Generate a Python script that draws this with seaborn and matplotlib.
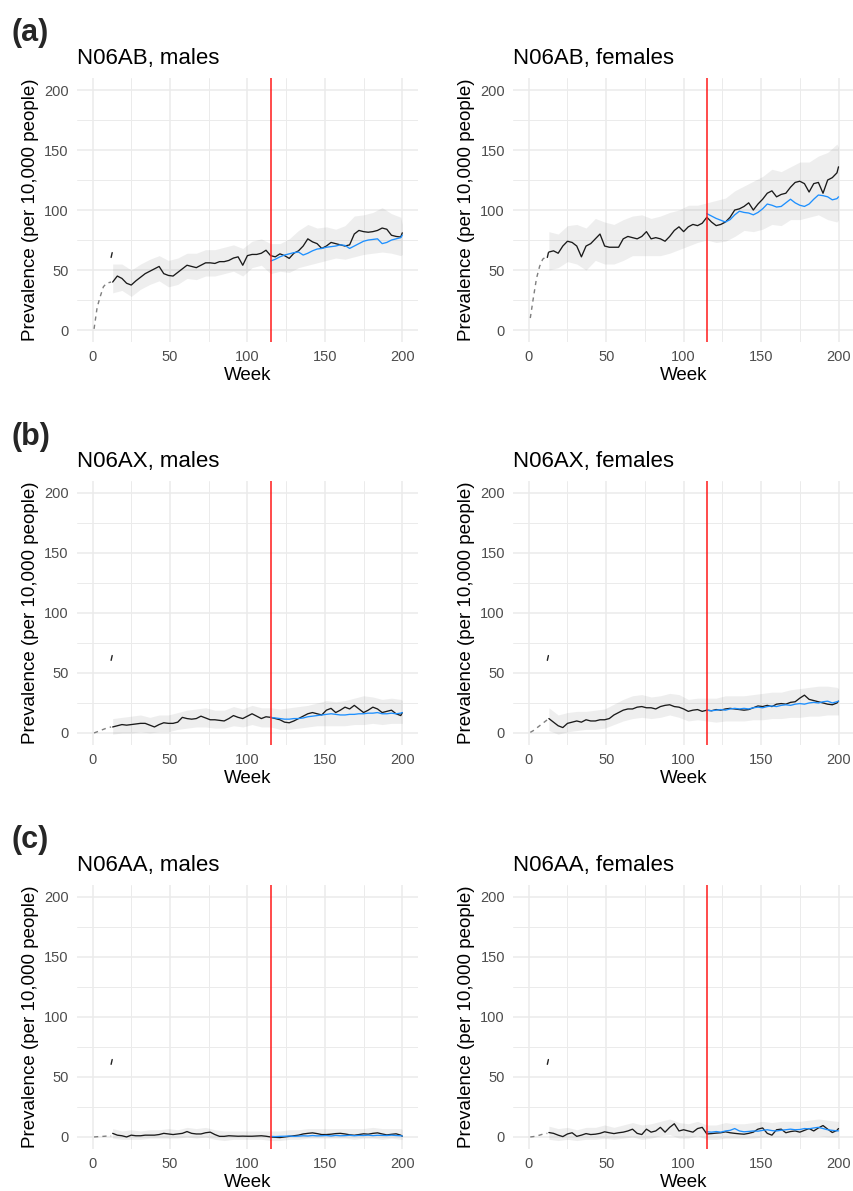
import matplotlib
matplotlib.use("Agg")
import matplotlib.pyplot as plt
import seaborn as sns

sns.set_theme(style="whitegrid")
plt.rcParams['font.family'] = ['Liberation Sans', 'DejaVu Sans']

# x positions (weeks)
weeks_dash = [1, 3, 5, 7, 9, 12]
weeks_spike = [12, 12.7]
weeks_obs = list(range(13, 200, 3)) + [200]
weeks_fc = list(range(115, 200, 3)) + [200]
weeks_band = list(range(13, 200, 6)) + [200]
spike_vals = [60.5, 64.5]
cutoff = 115

# ---- N06AB males
ab_m_dash = [1, 19, 28, 36, 39, 40]
ab_m_obs = [40, 45, 43, 39, 37.5, 41, 44, 47, 49, 51, 53, 47, 45.5, 45, 48, 51, 54, 53, 52, 54,
            56, 56, 55.5, 57, 57, 58, 60, 61, 54, 62, 63, 63, 64, 66.5, 62, 61, 63.5, 62, 59.7, 64,
            66, 70, 76, 73.5, 72, 68, 70, 73, 72, 71, 70, 71, 80, 83, 82, 81.5, 82, 83, 85, 84,
            79, 78, 77.5, 81]
ab_m_fc = [57.5, 59, 61, 62.5, 63.5, 64.5, 65, 62.5, 64, 66, 67.5, 68, 69, 69.5, 70, 71, 70.5, 68,
           70, 72, 74, 75, 75.5, 76, 72, 73, 75, 76, 77, 79]
ab_m_lo = [31, 33, 28, 34, 38, 41, 36, 38, 43, 42, 45, 45, 47, 49, 45, 52, 54, 47, 49, 48, 52, 54,
           56, 58, 60, 59, 61, 63, 64, 65, 64, 62, 63]
ab_m_hi = [55, 55, 50, 55, 59, 62, 58, 60, 64, 64, 67, 67, 69, 71, 68, 74, 76, 72, 72, 76, 83, 88,
           85, 86, 84, 87, 95, 96, 98, 102, 97, 94, 88]

# ---- N06AB females
ab_f_dash = [10, 27, 43, 53, 59, 62]
ab_f_obs = [65, 66, 64, 70, 74, 73, 70, 61, 70, 72, 76, 80, 70, 69, 69, 69, 76, 78, 77, 76,
            78, 82, 76, 77, 76, 74, 78, 83, 86, 82, 86, 88, 87, 89, 94, 90, 87, 88, 90, 94,
            100, 101, 103, 106, 100, 105, 109, 114, 116, 111, 113, 114, 119, 123, 124, 122, 115, 122, 123, 114,
            125, 127, 131, 136]
ab_f_fc = [97, 95, 93, 91.5, 90, 92, 96, 99, 98, 97.5, 96, 98, 101, 105, 104, 102.5, 103, 106,
           109, 106, 104, 103, 105, 109, 112.5, 112, 111, 108.5, 109.5, 111]
ab_f_lo = [50, 52, 57, 55, 50, 58, 55, 55, 58, 62, 62, 62, 62, 64, 67, 70, 73, 75, 73, 74, 78, 83,
           82, 84, 88, 87, 92, 92, 94, 96, 92, 90, 92]
ab_f_hi = [82, 80, 87, 88, 85, 93, 90, 88, 92, 95, 96, 93, 95, 98, 100, 104, 104, 106, 108, 110, 116, 120,
           124, 128, 134, 132, 136, 140, 140, 145, 148, 155, 152]

# ---- N06AX males
ax_m_dash = [0, 1, 2, 3, 4, 5]
ax_m_obs = [5, 6, 7, 6.5, 7, 7.5, 8, 8, 6.5, 5, 7, 8.5, 8, 8, 9, 13, 12, 11.5, 12, 14,
            12.5, 11, 11, 10.5, 10, 12, 14.5, 13, 12, 14, 16, 14, 12, 13.5, 13, 12, 11, 9, 8.5, 10,
            12, 14, 16, 17, 16, 15, 19, 20.5, 17, 19, 21.5, 20, 23, 20, 17, 19, 21.5, 20, 17, 18,
            19, 16, 14.5, 17]
ax_m_fc = [13, 12.5, 12, 11.5, 11.5, 12, 12, 12.5, 13.5, 14, 14.5, 15, 15.5, 16, 15.5, 15, 15, 15.5,
           15.5, 16, 16, 16.5, 16.5, 17, 16, 16, 16.5, 16, 16.5, 17]
ax_m_lo = [-1, 0, 0, 1, 0, 1, 1, 3, 4, 5, 5, 4, 4, 6, 5, 7, 5, 5, 3, 3, 4, 5, 6, 6, 6, 6, 7, 7,
           8, 7, 8, 8, 8]
ax_m_hi = [12, 13, 14, 15, 13, 15, 15, 17, 19, 20, 21, 19, 19, 22, 20, 23, 21, 21, 20, 21, 22, 23,
           25, 27, 26, 27, 29, 31, 30, 28, 29, 28, 27]

# ---- N06AX females
ax_f_dash = [0.5, 2, 4, 6, 8, 11]
ax_f_obs = [12, 9, 6, 4.5, 8, 9, 10, 9, 11, 10, 10, 11, 11, 12, 15, 17, 19, 20, 20, 21.5,
            22, 21, 21, 20, 22, 23, 23.5, 22, 21.5, 20, 18, 19, 19.5, 18, 19, 18.5, 19.5, 19, 20, 20.5,
            20, 19.5, 19, 19.5, 21, 22.5, 22, 23, 22, 24, 24.5, 24, 25.5, 26, 29, 31.5, 28, 27, 26, 25,
            24, 23.5, 25, 26.5]
ax_f_fc = [19, 18.5, 19, 19.5, 19, 20, 20.5, 20, 20.5, 20, 21, 21.5, 21, 22, 22.5, 22, 23, 23.5,
           23, 24, 24.5, 24, 25, 25.5, 25, 26, 26.5, 25, 26, 26.5]
ax_f_lo = [2, -1, 1, 2, 3, 3, 4, 7, 10, 12, 13, 12, 13, 15, 13, 10, 11, 10, 9, 10, 10, 10, 11, 11,
           12, 12, 13, 13, 14, 14, 15, 15, 15]
ax_f_hi = [21, 15, 17, 18, 18, 19, 20, 24, 28, 31, 32, 30, 31, 33, 32, 28, 29, 29, 29, 31, 31, 31,
           32, 33, 34, 34, 36, 37, 38, 39, 39, 38, 37]

# ---- N06AA males
aa_m_dash = [0, 0.2, 0.4, 0.5, 0.7, 0.8]
aa_m_obs = [3, 1.5, 1, 0, 1.5, 1, 1, 1.5, 1.5, 1.5, 2, 3, 2.5, 2, 2.5, 3, 4.5, 3, 2.5, 2.5,
            3.5, 4, 2, 0.5, 0.5, 1, 0.8, 0.6, 0.7, 0.6, 0.6, 0.8, 1, 0.6, 0, -0.3, -0.5, 0, 0.5, 1,
            1.5, 2.5, 3, 3.4, 2.8, 2, 2, 2.3, 2.8, 3, 2.5, 1.8, 1.4, 2, 2.6, 2.3, 3, 3.4, 2.5, 1.7,
            2.2, 2.6, 1.5, 0.6]
aa_m_fc = [0.5, 0.3, 0.5, 0.6, 0.8, 0.5, 0.7, 1, 0.8, 1.2, 0.9, 1, 1.2, 0.8, 1.3, 1, 1.1, 1.4,
           1, 1.3, 1.2, 1.5, 1.1, 1.4, 1.3, 1.2, 1.5, 1.2, 1, 0.8]
aa_m_lo = [-1, -2, -2, -2, -1, -1, -1, -1, 0, -1, 0, -2, -3, -2, -2, -2, -2, -3, -3, -2, -2, -1,
           -1, -1, -1, -1, -2, -1, -1, -2, -1, -2, -2]
aa_m_hi = [7, 5, 6, 5, 6, 6, 7, 6, 8, 7, 8, 6, 5, 5, 5, 5, 5, 5, 5, 6, 6, 7, 7, 7, 7, 7, 7, 7,
           8, 7, 7, 7, 6]

# ---- N06AA females
aa_f_dash = [0, 0.3, 0.8, 1.5, 2.3, 3]
aa_f_obs = [3.7, 3, 1.5, 0.3, 2.5, 3.5, 0.5, 1.5, 2.8, 2, 2.3, 3, 4.3, 3.5, 2.8, 3.5, 4, 5, 6.5, 3,
            2, 6.5, 4, 5, 8, 4, 8, 11, 5, 6, 5, 4, 7, 8, 2.5, 2.8, 3.2, 3.5, 4.3, 3.5,
            3, 2.6, 2.3, 3, 4, 6.5, 7.5, 3, 1.5, 6, 6.5, 3.5, 4.5, 5, 4, 5.5, 7, 5, 7.5, 9.5,
            6.5, 3.7, 5.5, 7]
aa_f_fc = [4.3, 4, 4.5, 4, 5, 5.5, 7, 5, 4.3, 4.6, 5, 4.8, 5.5, 6, 5.3, 5, 5.6, 6, 6.5, 6,
           6.2, 7, 6.8, 7.5, 8, 7, 6, 5.5, 5.1, 5.1]
aa_f_lo = [-2, -3, -2, -3, -2, -2, -1, -2, -1, 0, -2, -1, 1, 2, -1, -1, 1, -2, -2, -1, -1, -1,
           -1, 0, 0, 0, 0, 0, 1, 1, 0, 0, 0]
aa_f_hi = [9, 7, 8, 6, 8, 8, 10, 8, 10, 12, 10, 11, 13, 15, 12, 11, 13, 10, 10, 12, 11, 11, 12,
           13, 12, 13, 13, 13, 14, 15, 14, 13, 13]

titles = ['N06AB, males', 'N06AB, females', 'N06AX, males', 'N06AX, females',
          'N06AA, males', 'N06AA, females']
row_tags = ['(a)', '(b)', '(c)']

panels = [
    (ab_m_dash, ab_m_obs, ab_m_fc, ab_m_lo, ab_m_hi),
    (ab_f_dash, ab_f_obs, ab_f_fc, ab_f_lo, ab_f_hi),
    (ax_m_dash, ax_m_obs, ax_m_fc, ax_m_lo, ax_m_hi),
    (ax_f_dash, ax_f_obs, ax_f_fc, ax_f_lo, ax_f_hi),
    (aa_m_dash, aa_m_obs, aa_m_fc, aa_m_lo, aa_m_hi),
    (aa_f_dash, aa_f_obs, aa_f_fc, aa_f_lo, aa_f_hi),
]


def painel(ax, titulo, dash, obs, fc, lo, hi):
    # band first, then the lines, red cutoff on top
    ax.fill_between(weeks_band, lo, hi, color='#808080', alpha=0.13, lw=0, zorder=1)
    sns.lineplot(x=weeks_dash, y=dash, ax=ax, color='#7f7f7f', lw=1.0,
                 linestyle=(0, (3, 3)), zorder=2)
    sns.lineplot(x=weeks_spike, y=spike_vals, ax=ax, color='#222222', lw=1.0, zorder=2)
    sns.lineplot(x=weeks_obs, y=obs, ax=ax, color='#1a1a1a', lw=0.95, zorder=3)
    sns.lineplot(x=weeks_fc, y=fc, ax=ax, color='#1E90FF', lw=0.95, zorder=4)
    ax.axvline(cutoff, color='#FF1A1A', lw=1.1, zorder=5)

    ax.set_xlim(-10, 210)
    ax.set_ylim(-10, 210)
    ax.set_xticks([0, 50, 100, 150, 200])
    ax.set_yticks([0, 50, 100, 150, 200])
    ax.set_xticks([25, 75, 125, 175], minor=True)
    ax.set_yticks([25, 75, 125, 175], minor=True)
    ax.grid(which='major', color='#EBEBEB', lw=1.1)
    ax.grid(which='minor', color='#EBEBEB', lw=0.7, visible=True)
    ax.set_axisbelow(True)
    ax.set_facecolor('white')
    for s in ax.spines.values():
        s.set_visible(False)
    ax.tick_params(which='both', length=0, labelsize=10.5, labelcolor='#4D4D4D', pad=6)
    ax.set_xlabel('Week', fontsize=13.5, labelpad=2, color='black')
    ax.set_ylabel('Prevalence (per 10,000 people)', fontsize=13.5, labelpad=4, color='black')
    ax.set_title(titulo, loc='left', fontsize=16, pad=10, color='black')


fig = plt.figure(figsize=(8.54, 11.91), dpi=100)
fig.patch.set_facecolor('white')

bottoms = [0.7128, 0.3745, 0.0353]
lefts = [0.0902, 0.601]
w, h = 0.399, 0.2217

for i, (dash, obs, fc, lo, hi) in enumerate(panels):
    r, c = divmod(i, 2)
    ax = fig.add_axes([lefts[c], bottoms[r], w, h])
    painel(ax, titles[i], dash, obs, fc, lo, hi)

for r, tag in enumerate(row_tags):
    fig.text(0.014, 1 - (41 + 403.5 * r) / 1191, tag, fontsize=22, fontweight='bold',
             va='baseline', ha='left')

fig.savefig('out.png', dpi=100)
